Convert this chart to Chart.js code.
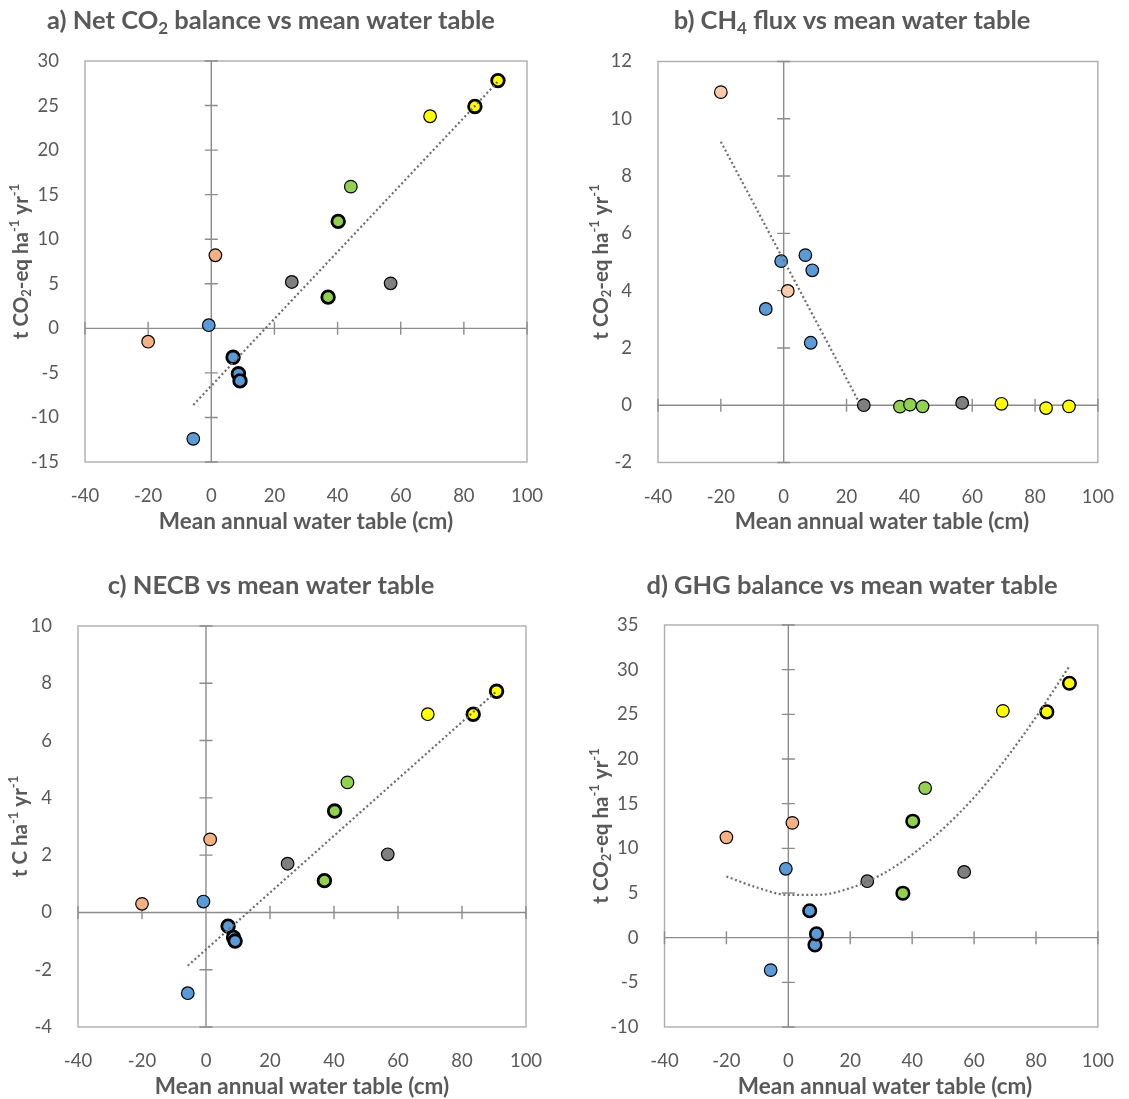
<!DOCTYPE html>
<html>
<head>
<meta charset="utf-8">
<script src="https://cdn.jsdelivr.net/npm/chart.js@4.4.1/dist/chart.umd.min.js"></script>
<style>
  body { margin: 0; background: #fff; }
  #wrap { position: relative; width: 1129px; height: 1099px; }
  #wrap canvas { position: absolute; }
</style>
</head>
<body>
<div id="wrap">
  <canvas id="panelA" width="564" height="550" style="left:0;top:0"></canvas>
  <canvas id="panelB" width="565" height="550" style="left:564px;top:0"></canvas>
  <canvas id="panelC" width="564" height="549" style="left:0;top:550px"></canvas>
  <canvas id="panelD" width="565" height="549" style="left:564px;top:550px"></canvas>
</div>
<script>
// sites: mean annual water table (cm), marker group and whether the marker gets a heavy rim
const waterTable = [-20.0, 1.3, -0.8, -5.7, 6.9, 8.6, 9.1, 25.5, 56.8, 37.0, 40.2, 44.2, 69.3, 83.5, 90.8]
const siteGroup = ['orange', 'orange', 'blue', 'blue', 'blue', 'blue', 'blue', 'grey', 'grey', 'green', 'green', 'green', 'yellow', 'yellow', 'yellow']
const heavyRim = [0, 0, 0, 0, 1, 1, 1, 0, 0, 1, 1, 0, 0, 1, 1]

// fluxes per site
const netCO2 = [-1.5, 8.2, 0.35, -12.4, -3.25, -5.1, -5.9, 5.2, 5.05, 3.5, 12.0, 15.9, 23.8, 24.9, 27.8]
const ch4Flux = [10.93, 3.99, 5.03, 3.36, 5.24, 2.18, 4.71, 0.0, 0.08, -0.05, 0.02, -0.04, 0.05, -0.1, -0.04]
const necb = [0.30, 2.55, 0.38, -2.82, -0.48, -0.87, -1.0, 1.70, 2.03, 1.11, 3.54, 4.54, 6.92, 6.92, 7.72]
const ghgBalance = [11.23, 12.85, 7.71, -3.63, 3.01, -0.81, 0.42, 6.32, 7.36, 4.98, 13.04, 16.74, 25.39, 25.27, 28.48]

// trend lines
const trendA_x = [-5.7, 90.8]
const trendA_y = [-8.6, 27.7]
const trendB_x = [-20, 24]
const trendB_y = [9.2, 0.1]
const trendC_x = [-5.7, 90.8]
const trendC_y = [-1.86, 7.72]
const trendD_x = [-20, -10, 0, 10, 20, 30, 40, 50, 60, 70, 80, 90.8]
const trendD_y = [6.85, 5.6, 4.78, 4.8, 5.55, 7.05, 9.3, 12.2, 15.7, 19.9, 24.7, 30.4]

const xTicks = { min: -40, max: 100, step: 20 }

const groupFill = { orange: '#F4B183', blue: '#5B9BD5', grey: '#7F7F7F', green: '#92D050', yellow: '#FFFF00' }
const TEXT = '#595959'

Chart.defaults.font.family = 'Lato'
Chart.defaults.color = TEXT

const CO2EQ_UNIT = [['t CO', ''], ['2', 'sub'], ['-eq ha', ''], ['-1', 'sup'], [' yr', ''], ['-1', 'sup']]

const panels = [
  {
    id: 'panelA', values: netCO2, y: [-15, 30, 5], trend: [trendA_x, trendA_y], straight: true,
    area: { left: 85, right: 37, top: 61, bottom: 88 },
    title: [['a) Net CO', ''], ['2', 'sub'], [' balance vs mean water table', '']],
    titlePos: [271, 21], xTitlePos: [306, 522], yTitleX: 21, yTitle: CO2EQ_UNIT,
    rim: [1.2, 2.8]
  },
  {
    id: 'panelB', values: ch4Flux, y: [-2, 12, 2], trend: [trendB_x, trendB_y], straight: true,
    area: { left: 94, right: 23, top: 61.5, bottom: 87.5 },
    title: [['b) CH', ''], ['4', 'sub'], [' flux vs mean water table', '']],
    titlePos: [288, 21], xTitlePos: [318, 522], yTitleX: 37, yTitle: CO2EQ_UNIT,
    rim: [1.2, 1.2], orange: '#F8CBAD'
  },
  {
    id: 'panelC', values: necb, y: [-4, 10, 2], trend: [trendC_x, trendC_y], straight: true,
    area: { left: 78, right: 38, top: 76, bottom: 72 },
    title: [['c) NECB vs mean water table', '']],
    titlePos: [271, 36], xTitlePos: [302, 537], yTitleX: 20,
    yTitle: [['t C ha', ''], ['-1', 'sup'], [' yr', ''], ['-1', 'sup']],
    rim: [1.2, 2.8]
  },
  {
    id: 'panelD', values: ghgBalance, y: [-10, 35, 5], trend: [trendD_x, trendD_y], straight: false,
    area: { left: 100.5, right: 23, top: 75, bottom: 72 },
    title: [['d) GHG balance vs mean water table', '']],
    titlePos: [288, 36], xTitlePos: [321, 537], yTitleX: 37, yTitle: CO2EQ_UNIT,
    rim: [1.2, 2.5]
  }
]

// text with sub/superscript runs, centred on (x, y), optionally rotated
function drawRich (ctx, parts, x, y, size, rotate) {
  const small = Math.round(size * 0.65)
  const fontFor = kind => 'bold ' + (kind ? small : size) + 'px Lato'
  let total = 0
  parts.forEach(([t, kind]) => { ctx.font = fontFor(kind); total += ctx.measureText(t).width })
  ctx.save()
  ctx.translate(x, y)
  if (rotate) ctx.rotate(-Math.PI / 2)
  ctx.fillStyle = TEXT
  ctx.textBaseline = 'middle'
  ctx.textAlign = 'left'
  let cx = -total / 2
  parts.forEach(([t, kind]) => {
    ctx.font = fontFor(kind)
    const dy = kind === 'sub' ? size * 0.28 : kind === 'sup' ? -size * 0.3 : 0
    ctx.fillText(t, cx, dy)
    cx += ctx.measureText(t).width
  })
  ctx.restore()
}

// plot frame plus the zero axes with crossing tick marks
const crossAxes = {
  id: 'crossAxes',
  beforeDatasetsDraw (chart) {
    const { ctx, chartArea: a, scales: { x, y } } = chart
    ctx.save()
    ctx.strokeStyle = '#ADADAD'
    ctx.lineWidth = 1.4
    ctx.strokeRect(a.left, a.top, a.right - a.left, a.bottom - a.top)

    const x0 = x.getPixelForValue(0)
    const y0 = y.getPixelForValue(0)
    ctx.strokeStyle = '#8C8C8C'
    ctx.lineWidth = 1.4
    ctx.beginPath()
    ctx.moveTo(a.left, y0); ctx.lineTo(a.right, y0)
    ctx.moveTo(x0, a.top); ctx.lineTo(x0, a.bottom)
    x.ticks.forEach(t => {
      const px = x.getPixelForValue(t.value)
      ctx.moveTo(px, y0 - 6.5); ctx.lineTo(px, y0 + 6.5)
    })
    y.ticks.forEach(t => {
      const py = y.getPixelForValue(t.value)
      ctx.moveTo(x0 - 6.5, py); ctx.lineTo(x0 + 6.5, py)
    })
    ctx.stroke()
    ctx.restore()
  },
  afterDraw (chart, args, opts) {
    const { ctx, chartArea: a } = chart
    drawRich(ctx, opts.title, opts.titlePos[0], opts.titlePos[1], 25.5, false)
    drawRich(ctx, [['Mean annual water table (cm)', '']], opts.xTitlePos[0], opts.xTitlePos[1], 22.5, false)
    drawRich(ctx, opts.yTitle, opts.yTitleX, (a.top + a.bottom) / 2, 20.5, true)
  }
}

function makePanel (p) {
  const canvas = document.getElementById(p.id)
  const fills = siteGroup.map(g => (g === 'orange' && p.orange) ? p.orange : groupFill[g])
  const rims = heavyRim.map(h => p.rim[h])
  const points = waterTable.map((wt, i) => ({ x: wt, y: p.values[i] }))
  const trend = p.trend[0].map((tx, i) => ({ x: tx, y: p.trend[1][i] }))

  new Chart(canvas, {
    type: 'scatter',
    data: {
      datasets: [
        {
          data: trend,
          showLine: true,
          borderColor: '#6E6E6E',
          borderWidth: 2.2,
          borderDash: [2, 2.6],
          pointRadius: 0,
          tension: p.straight ? 0 : 0.4,
          cubicInterpolationMode: p.straight ? 'default' : 'monotone',
          order: 0
        },
        {
          data: points,
          backgroundColor: fills,
          borderColor: '#000',
          borderWidth: rims,
          pointRadius: 6.3,
          order: 1
        }
      ]
    },
    options: {
      responsive: false,
      animation: false,
      devicePixelRatio: 1,
      layout: { padding: { top: p.area.top, right: p.area.right, left: 0, bottom: 0 } },
      plugins: {
        legend: { display: false },
        tooltip: { enabled: false },
        crossAxes: { title: p.title, titlePos: p.titlePos, xTitlePos: p.xTitlePos, yTitleX: p.yTitleX, yTitle: p.yTitle }
      },
      scales: {
        x: {
          type: 'linear',
          min: xTicks.min, max: xTicks.max,
          ticks: { stepSize: xTicks.step, padding: 15, font: { size: 18.5 }, color: TEXT },
          grid: { display: false },
          border: { display: false },
          afterFit: s => { s.height = p.area.bottom }
        },
        y: {
          type: 'linear',
          min: p.y[0], max: p.y[1],
          ticks: { stepSize: p.y[2], padding: 18, font: { size: 18.5 }, color: TEXT },
          grid: { display: false },
          border: { display: false },
          afterFit: s => { s.width = p.area.left }
        }
      }
    },
    plugins: [crossAxes]
  })
}

panels.forEach(makePanel)
</script>
</body>
</html>
